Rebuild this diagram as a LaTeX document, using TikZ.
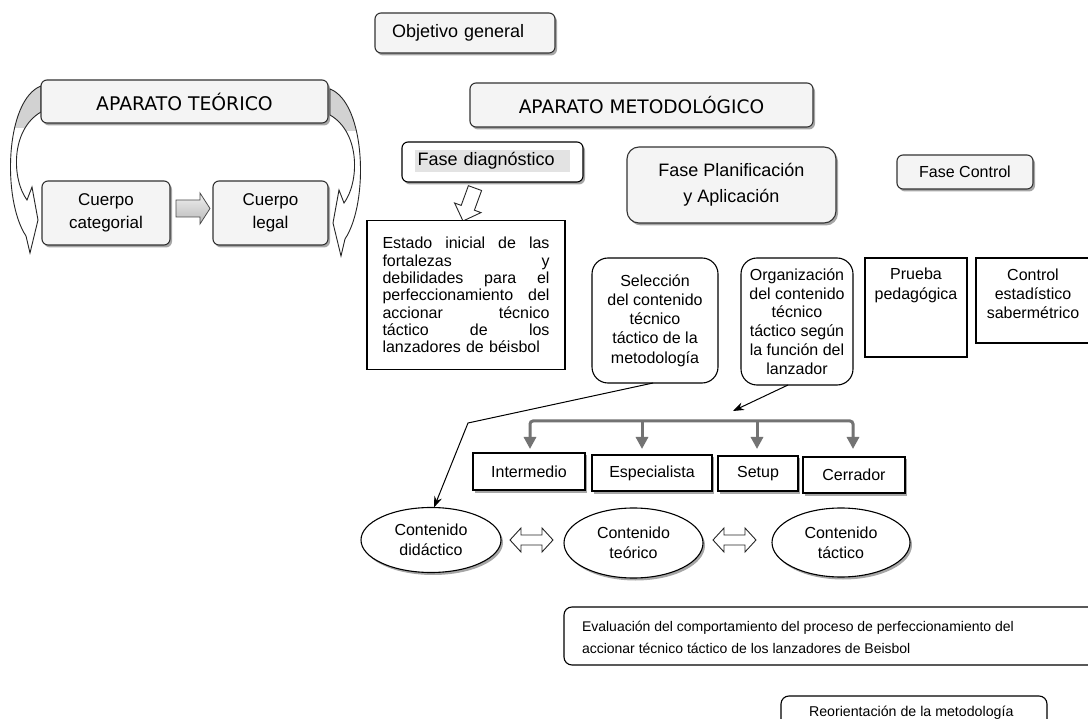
\documentclass[tikz,border=0pt]{standalone}
\usepackage{fontspec}
\setmainfont{Liberation Sans}
\newfontfamily\verdf{DejaVu Sans}
\usetikzlibrary{shapes.geometric,shadows,arrows.meta}
\setlength{\parindent}{0pt}
\begin{document}
\begin{tikzpicture}[x=1pt,y=-1pt,
  every node/.style={inner sep=0pt,outer sep=0pt,font=\fontsize{16}{19}\selectfont},
  shd/.style={drop shadow={shadow xshift=2pt,shadow yshift=-2.5pt,opacity=0.35,fill=black}},
  gbox/.style={draw=black!80,line width=1.1pt,rounded corners=6pt,fill=gray!9,shd},
  wbox/.style={draw=black,line width=1.1pt,fill=white},
  rbox/.style={wbox,rounded corners=16pt},
  sbox/.style={wbox,shd},
  oval/.style={ellipse,draw=black,line width=1.1pt,fill=white,shd,align=center,font=\fontsize{16}{20}\selectfont},
  thinline/.style={draw=black,line width=1pt},
  gbr/.style={draw=black!55,line width=3pt},
  ghead/.style={-{Triangle[width=12pt,length=12pt]}},
  hollow/.style={draw=black!85,line width=0.9pt,fill=white},
  blockarrow/.style={draw=black!70,line width=0.8pt,top color=gray!12,bottom color=gray!55},
]
\fill[white,use as bounding box] (0,0) rectangle (1088,719);

% curved arrows around APARATO TEORICO
\def\curvearrowpath{(41,86) .. controls (5,100) and (2,200) .. (26,236) -- (30,253) -- (38,220) -- (32,187) -- (27,200) .. controls (12,180) and (10,130) .. (41,112) -- cycle}
\begin{scope}
  \fill[white] \curvearrowpath;
  \begin{scope}\clip \curvearrowpath; \fill[gray!35] (0,80) rectangle (60,128);\end{scope}
  \draw[black!85,line width=0.9pt] \curvearrowpath;
\end{scope}
\begin{scope}[shift={(371,3)},xscale=-1]
  \fill[white] \curvearrowpath;
  \begin{scope}\clip \curvearrowpath; \fill[gray!35] (0,80) rectangle (60,128);\end{scope}
  \draw[black!85,line width=0.9pt] \curvearrowpath;
\end{scope}

% top boxes
\node[gbox,minimum width=180pt,minimum height=40pt,text width=146pt,font=\fontsize{18}{20}\selectfont] (obj) at (465,33) {Objetivo general};
\node[gbox,minimum width=287pt,minimum height=43pt,font=\verdf\fontsize{18.8}{20}\selectfont] (apt) at (184.5,101.5) {APARATO TEÓRICO};
\node[gbox,minimum width=128pt,minimum height=64pt,align=center,font=\fontsize{17}{23}\selectfont] (cat) at (106,213) {Cuerpo\\categorial};
\node[gbox,minimum width=115pt,minimum height=64pt,align=center,font=\fontsize{17}{23}\selectfont] (leg) at (270.5,213) {Cuerpo\\legal};
\draw[blockarrow] (176,200) -- (200,200) -- (200,193) -- (210,208.5) -- (200,224) -- (200,217) -- (176,217) -- cycle;

\node[gbox,minimum width=343pt,minimum height=44pt,font=\verdf\fontsize{18.6}{20}\selectfont] (apm) at (641.5,105) {APARATO METODOLÓGICO};
\node[wbox,rounded corners=6pt,shd,minimum width=181pt,minimum height=40pt] (fd) at (492.5,162) {};
\node[fill=gray!22,minimum width=155pt,minimum height=22pt,text width=150pt,font=\fontsize{18}{20}\selectfont] (fdt) at (492.5,161) {Fase diagnóstico};
\node[gbox,rounded corners=12pt,minimum width=209pt,minimum height=76pt,align=center,font=\fontsize{18}{26}\selectfont] (fpa) at (731.5,185) {Fase Planificación\\y Aplicación};
\node[gbox,minimum width=136pt,minimum height=34pt] (fco) at (965,172) {Fase Control};

% hollow arrow down
\draw[hollow] (463,221) -- (481,212.6) -- (474.4,210.2) -- (481.6,190.5) -- (468.4,185.7) -- (461.2,205.4) -- (454.6,203) -- cycle;

% middle row
\node[wbox,minimum width=198pt,minimum height=149pt,text width=167pt,align=left,font=\fontsize{16}{17.35}\selectfont] (est) at (466,295)
 {Estado\hfill inicial\hfill de\hfill las\\fortalezas\hfill y\\debilidades\hfill para\hfill el\\perfeccionamiento\hfill del\\accionar\hfill técnico\\táctico\hfill de\hfill los\\lanzadores de béisbol};
\node[rbox,minimum width=126pt,minimum height=125pt,align=center,font=\fontsize{16}{19.25}\selectfont] (sel) at (655,320.5) {Selección\\del contenido\\técnico\\táctico de la\\metodología};
\node[rbox,minimum width=112pt,minimum height=127pt,align=center,font=\fontsize{16}{18.8}\selectfont] (org) at (797,321.5) {Organización\\del contenido\\técnico\\táctico según\\la función del\\lanzador};
\node[wbox,minimum width=102pt,minimum height=99pt] (pru) at (916,307.5) {};
\node[align=center,font=\fontsize{16}{20}\selectfont] (prut) at (916,285) {Prueba\\pedagógica};
\node[wbox,minimum width=119pt,minimum height=85pt] (ctl) at (1035.5,300.5) {};
\node[align=center,font=\fontsize{16}{19}\selectfont] (ctlt) at (1033,294) {Control\\estadístico\\sabermétrico};

% pitcher roles
\node[sbox,minimum width=112pt,minimum height=37pt] (int) at (529,471.5) {Intermedio};
\node[sbox,minimum width=120pt,minimum height=36pt] (esp) at (652,473) {Especialista};
\node[sbox,minimum width=80pt,minimum height=35pt] (stp) at (758,473.5) {Setup};
\node[sbox,minimum width=102pt,minimum height=36pt] (cer) at (854,475) {Cerrador};

\coordinate (h1) at (530,421); \coordinate (h2) at (642,421);
\coordinate (h3) at (757,421); \coordinate (h4) at (853,421);
\coordinate (t1) at (530,449); \coordinate (t2) at (642,449);
\coordinate (t3) at (757,449); \coordinate (t4) at (853,449);
\draw[gbr,rounded corners=3pt,{Triangle[width=12pt,length=12pt]}-{Triangle[width=12pt,length=12pt]}] (t1) -- (h1) -- (h4) -- (t4);
\draw[gbr,ghead] (h2) -- (t2);
\draw[gbr,ghead] (h3) -- (t3);

% contents
\node[oval,minimum width=140pt,minimum height=65pt] (did) at (431,540) {Contenido\\didáctico};
\node[oval,minimum width=139pt,minimum height=70pt] (teo) at (633.5,543) {Contenido\\teórico};
\node[oval,minimum width=138pt,minimum height=69pt] (tac) at (841,542.5) {Contenido\\táctico};
\draw[hollow] (510,540) -- (521,528) -- (521,535) -- (542,535) -- (542,528) -- (553,540) -- (542,552) -- (542,545) -- (521,545) -- (521,552) -- cycle;
\begin{scope}[xshift=203pt]
\draw[hollow] (510,540) -- (521,528) -- (521,535) -- (542,535) -- (542,528) -- (553,540) -- (542,552) -- (542,545) -- (521,545) -- (521,552) -- cycle;
\end{scope}

% connectors
\coordinate (bend) at (468,423);
\draw[thinline,-{Stealth[length=11pt,width=8pt]}] ([xshift=-2pt]sel.south) -- (bend) -- ([xshift=3pt]did.north);
\coordinate (otip) at (733,411);
\draw[thinline,-{Stealth[length=11pt,width=8pt]}] ([xshift=-9pt]org.south) -- (otip);

% bottom
\node[wbox,rounded corners=8pt,minimum width=536pt,minimum height=58pt] (eva) at (832,636) {};
\node[anchor=west,align=left,font=\fontsize{14}{22.5}\selectfont] (evat) at (582,637.5) {Evaluación del comportamiento del proceso de perfeccionamiento del\\accionar técnico táctico de los lanzadores de Beisbol};
\node[wbox,rounded corners=8pt,minimum width=266pt,minimum height=40pt] (reo) at (914,716) {};
\node[anchor=west,font=\fontsize{14.2}{16}\selectfont] (reot) at (809,713) {Reorientación de la metodología};
\end{tikzpicture}
\end{document}
